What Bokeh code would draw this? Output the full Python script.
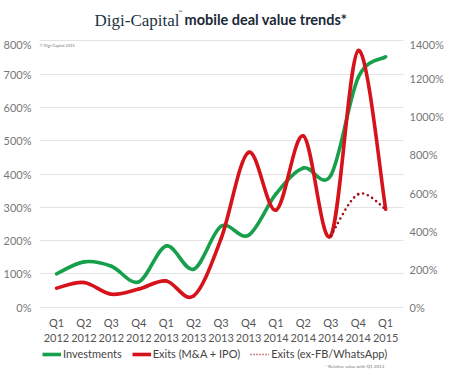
from bokeh.plotting import figure
from bokeh.layouts import column
from bokeh.models import Range1d, LinearAxis, Label, Legend, LegendItem, FixedTicker
from bokeh.embed import file_html
from bokeh.resources import INLINE

# ---- data ----
quarters = ["Q1\n2012", "Q2\n2012", "Q3\n2012", "Q4\n2012",
            "Q1\n2013", "Q2\n2013", "Q3\n2013", "Q4\n2013",
            "Q1\n2014", "Q2\n2014", "Q3\n2014", "Q4\n2014", "Q1\n2015"]
investments = [100, 136, 123, 76, 184, 114, 243, 216, 340, 418, 396, 690, 752]   # left axis, %
exits = [100, 130, 68, 95, 138, 59, 360, 814, 510, 900, 375, 1349, 515]            # right axis, %
exits_ex_idx = [10, 11, 12]
exits_ex = [375, 594, 515]                                                         # right axis, %
left_ticks = [0, 100, 200, 300, 400, 500, 600, 700, 800]
right_ticks = [0, 200, 400, 600, 800, 1000, 1200, 1400]

GREEN = "#17a04b"
RED = "#d6121b"
DRED = "#a3131c"
FONT = "Lato"
W = 434


def smooth(xs, ys):
    """Catmull-Rom -> cubic bezier control points for a smooth rendered line."""
    n = len(xs)
    px = [xs[0]] + list(xs) + [xs[-1]]
    py = [ys[0]] + list(ys) + [ys[-1]]
    out = dict(x0=[], y0=[], x1=[], y1=[], cx0=[], cy0=[], cx1=[], cy1=[])
    for i in range(n - 1):
        x0, y0 = px[i], py[i]
        x1, y1 = px[i + 1], py[i + 1]
        x2, y2 = px[i + 2], py[i + 2]
        x3, y3 = px[i + 3], py[i + 3]
        out["x0"].append(x1); out["y0"].append(y1)
        out["x1"].append(x2); out["y1"].append(y2)
        out["cx0"].append(x1 + (x2 - x0) / 6); out["cy0"].append(y1 + (y2 - y0) / 6)
        out["cx1"].append(x2 - (x3 - x1) / 6); out["cy1"].append(y2 - (y3 - y1) / 6)
    return out


def blank(height):
    f = figure(width=W, height=height, output_backend="svg", toolbar_location=None,
               x_range=Range1d(0, 1), y_range=Range1d(0, 1), min_border=0,
               x_axis_location=None, y_axis_location=None)
    f.grid.visible = False
    f.outline_line_color = None
    f.background_fill_color = "white"
    f.border_fill_color = "white"
    return f


# ---- title (frame aligned with chart frame) ----
t = blank(37)
t.add_layout(Label(x=55, y=17, x_units="screen", y_units="screen", text="Digi-Capital",
                   text_baseline="alphabetic",
                   text_font="Liberation Serif", text_font_size="17px", text_color="#1d3442"))
t.add_layout(Label(x=139, y=26, x_units="screen", y_units="screen", text="™",
                   text_baseline="alphabetic",
                   text_font=FONT, text_font_size="5px", text_color="#1d3442"))
t.add_layout(Label(x=145, y=18, x_units="screen", y_units="screen", text="mobile deal value trends*",
                   text_baseline="alphabetic",
                   text_font=FONT, text_font_style="bold", text_font_size="14.5px",
                   text_color="#1b2838"))

# ---- main chart ----
p = figure(frame_width=364, frame_height=273, output_backend="svg", toolbar_location=None,
           x_range=Range1d(-0.62, 12.65), y_range=Range1d(-10, 810),
           min_border_left=32, min_border_right=38, min_border_top=0, min_border_bottom=33)
p.extra_y_ranges = {"right": Range1d(-17.5, 1417.5)}
p.outline_line_color = None
p.background_fill_color = "white"
p.border_fill_color = "white"

xi = list(range(len(quarters)))
p.bezier(line_color=GREEN, line_width=3.6, line_cap="round", **smooth(xi, investments))
p.bezier(line_color=RED, line_width=3.6, line_cap="round", y_range_name="right",
         **smooth(xi, exits))
p.bezier(line_color=DRED, line_width=2.6, line_cap="round", line_dash="0 5",
         y_range_name="right", **smooth(exits_ex_idx, exits_ex))

p.xaxis.ticker = FixedTicker(ticks=xi)
p.xaxis.major_label_overrides = {i: q for i, q in enumerate(quarters)}
p.xaxis.axis_line_color = None
p.xaxis.major_tick_line_color = None
p.xaxis.minor_tick_line_color = None
p.xaxis.major_tick_out = 0
p.xaxis.major_tick_in = 0
p.xaxis.major_label_standoff = 5
p.xaxis.major_label_text_font = FONT
p.xaxis.major_label_text_font_size = "11px"
p.xaxis.major_label_text_color = "#555555"
p.xgrid.visible = False

p.yaxis.ticker = FixedTicker(ticks=left_ticks)
p.yaxis.major_label_overrides = {v: f"{v}%" for v in left_ticks}
p.yaxis.axis_line_color = None
p.yaxis.major_tick_line_color = None
p.yaxis.minor_tick_line_color = None
p.yaxis.major_tick_out = 0
p.yaxis.major_tick_in = 0
p.yaxis.major_label_standoff = 8
p.yaxis.major_label_text_font = FONT
p.yaxis.major_label_text_font_size = "11px"
p.yaxis.major_label_text_color = "#777777"
p.ygrid.ticker = FixedTicker(ticks=left_ticks)
p.ygrid.grid_line_color = "#e3e3e3"
p.ygrid.grid_line_width = 1

ry = LinearAxis(y_range_name="right", ticker=FixedTicker(ticks=right_ticks))
ry.major_label_overrides = {v: f"{v}%" for v in right_ticks}
ry.axis_line_color = None
ry.major_tick_line_color = None
ry.minor_tick_line_color = None
ry.major_tick_out = 0
ry.major_tick_in = 0
ry.major_label_standoff = 6
ry.major_label_text_font = FONT
ry.major_label_text_font_size = "11px"
ry.major_label_text_color = "#777777"
p.add_layout(ry, "right")

p.add_layout(Label(x=0, y=265, x_units="screen", y_units="screen", text="© Digi-Capital 2015",
                   text_baseline="alphabetic",
                   text_font=FONT, text_font_size="4px", text_color="#777777"))

# ---- legend strip ----
lg = blank(22)
g1 = lg.line(x=[-5, -4], y=[-5, -5], line_color=GREEN, line_width=3.6)
g2 = lg.line(x=[-5, -4], y=[-5, -5], line_color=RED, line_width=3.6)
g3 = lg.line(x=[-5, -4], y=[-5, -5], line_color=DRED, line_width=1.5, line_dash="1 2")
legend = Legend(items=[LegendItem(label="Investments", renderers=[g1]),
                       LegendItem(label="Exits (M&A + IPO)", renderers=[g2]),
                       LegendItem(label="Exits (ex-FB/WhatsApp)", renderers=[g3])],
                orientation="horizontal", location=(3, 9),
                label_text_font=FONT, label_text_font_size="11px", label_text_color="#444444",
                glyph_width=19, glyph_height=10, label_standoff=2, spacing=10,
                padding=0, margin=0, border_line_color=None, background_fill_alpha=0)
lg.add_layout(legend, "center")
lg.add_layout(Label(x=345, y=3, x_units="screen", y_units="screen", text="* Relative value with Q1 2012",
                    text_baseline="alphabetic", text_align="right",
                    text_font=FONT, text_font_size="4.5px", text_color="#777777"))

layout = column(t, p, lg, spacing=0)
open("out.html", "w").write(file_html(layout, INLINE))
